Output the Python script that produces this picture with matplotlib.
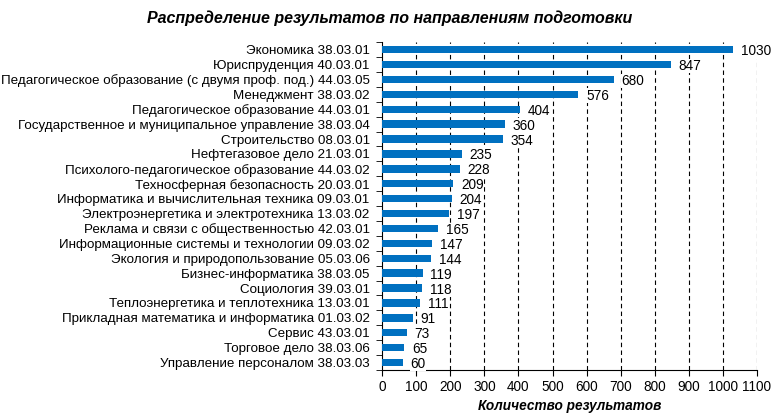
import numpy as np
import matplotlib.pyplot as plt

names = [
    'Экономика 38.03.01',
    'Юриспруденция 40.03.01',
    'Педагогическое образование (с двумя проф. под.) 44.03.05',
    'Менеджмент 38.03.02',
    'Педагогическое образование 44.03.01',
    'Государственное и муниципальное управление 38.03.04',
    'Строительство 08.03.01',
    'Нефтегазовое дело 21.03.01',
    'Психолого-педагогическое образование 44.03.02',
    'Техносферная безопасность 20.03.01',
    'Информатика и вычислительная техника 09.03.01',
    'Электроэнергетика и электротехника 13.03.02',
    'Реклама и связи с общественностью 42.03.01',
    'Информационные системы и технологии 09.03.02',
    'Экология и природопользование 05.03.06',
    'Бизнес-информатика 38.03.05',
    'Социология 39.03.01',
    'Теплоэнергетика и теплотехника 13.03.01',
    'Прикладная математика и информатика 01.03.02',
    'Сервис 43.03.01',
    'Торговое дело 38.03.06',
    'Управление персоналом 38.03.03',
]
counts = [1030, 847, 680, 576, 404, 360, 354, 235, 228, 209, 204, 197, 165,
          147, 144, 119, 118, 111, 91, 73, 65, 60]

plt.rcParams['font.family'] = ['Liberation Sans', 'DejaVu Sans']

fig = plt.figure(figsize=(7.8, 4.16), dpi=100)
ax = fig.add_axes([0.49, 0.1106, 0.4805, 0.788])

y = np.arange(len(names))
ax.barh(y, counts, height=0.5, color='#0070C0', zorder=3)
for yi, v in zip(y, counts):
    ax.text(v + 22, yi + 0.1, str(v), va='center', ha='left', fontsize=9.8,
            zorder=4, bbox=dict(facecolor='white', edgecolor='none', pad=0.3))

ax.set_xlim(0, 1100)
ax.set_ylim(len(names) - 0.5, -0.5)
ax.set_xticks(np.arange(0, 1101, 100))
ax.tick_params(axis='x', labelsize=9.8, length=4, direction='out')
ax.set_yticks(y)
ax.set_yticklabels(names, fontsize=9.6)
ax.set_yticks(np.arange(-0.5, len(names), 1), minor=True)
ax.tick_params(axis='y', which='major', length=0, pad=9)
ax.tick_params(axis='y', which='minor', length=4, direction='out')

for x in range(100, 1101, 100):
    ax.axvline(x, color='black', linestyle=(0, (4, 3)), linewidth=0.8, zorder=1)

ax.spines['top'].set_visible(False)
ax.spines['right'].set_visible(False)

ax.set_xlabel('Количество результатов', fontsize=9.8, fontweight='bold',
              fontstyle='italic', labelpad=3)
fig.text(0.5, 0.957, 'Распределение результатов по направлениям подготовки',
         ha='center', va='center', fontsize=11.5, fontweight='bold', fontstyle='italic')

fig.savefig('out.png', dpi=100)
